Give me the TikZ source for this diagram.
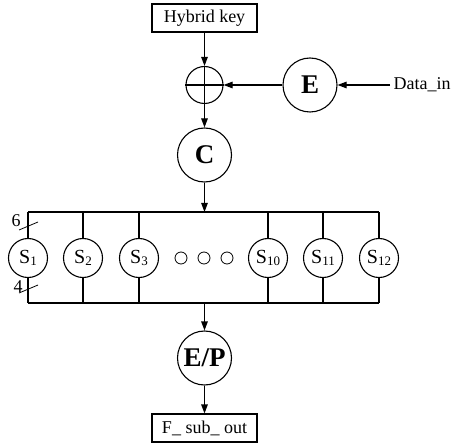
\documentclass[tikz,border=0pt]{standalone}
\usepackage{fontspec}
\setmainfont{Liberation Serif}
\usetikzlibrary{arrows.meta}
\begin{document}
\begin{tikzpicture}[x=1pt,y=-1pt,line width=1.1pt,
  >={Triangle[length=9pt,width=6.5pt]},
  box/.style={draw,rectangle,minimum width=105pt,minimum height=28pt,inner sep=0pt,font=\fontsize{18}{20}\selectfont},
  bigc/.style={draw,circle,minimum size=54pt,inner sep=0pt,font=\fontsize{27}{29}\selectfont\bfseries},
  sc/.style={draw,circle,minimum size=39pt,inner sep=0pt,fill=white,font=\fontsize{20}{22}\selectfont},
  dotc/.style={draw,circle,minimum size=12pt,inner sep=0pt,line width=0.8pt},
  lbl/.style={font=\fontsize{18}{20}\selectfont,inner sep=0pt}]
\useasboundingbox (0,0) rectangle (460,446);
\newcommand{\sub}[1]{\raisebox{-2pt}{\fontsize{13}{13}\selectfont #1}}
% top part
\node[box] (hk) at (204.5,18) {Hybrid key};
\node[draw,circle,minimum size=37pt,inner sep=0pt] (x) at (204.5,85) {};
\draw (x.north) -- (x.south);
\draw (x.west) -- (x.east);
\node[bigc] (E) at (310,85) {E};
\node[lbl,anchor=west,inner xsep=3pt] (din) at (390,85) {Data\_in};
\node[bigc] (C) at (204.5,155) {C};
\draw[->] (hk.south) -- (x.north);
\draw[->] (E.west) -- (x.east);
\draw[->] (din.west) -- (E.east);
\draw[->] (x.south) -- (C.north);
% bus
\coordinate (tl) at (28,212);
\coordinate (tr) at (379,212);
\coordinate (bl) at (28,303);
\coordinate (br) at (379,303);
\coordinate (tm) at (204.5,212);
\coordinate (bm) at (204.5,303);
\draw (tl) -- (tr);
\draw (bl) -- (br);
\draw[->] (C.south) -- (tm);
\foreach \n/\xx/\t in {s1/28/1,s2/83/2,s3/139/3,s10/268/10,s11/323/11,s12/379/12}{
  \node[sc] (\n) at (\xx,258) {S\sub{\t}};
  \draw (\xx,212) -- (\n.north);
  \draw (\n.south) -- (\xx,303);
}
\node[dotc] (d1) at (181,258) {};
\node[dotc] (d2) at (204,258) {};
\node[dotc] (d3) at (227,258) {};
% width marks
\coordinate (m6a) at (19,230); \coordinate (m6b) at (38,222);
\coordinate (m4a) at (19,293); \coordinate (m4b) at (38,285);
\draw[line width=0.8pt] (m6a) -- (m6b);
\draw[line width=0.8pt] (m4a) -- (m4b);
\node[lbl] (l6) at (16,221) {6};
\node[lbl] (l4) at (18,287) {4};
% bottom
\node[bigc] (EP) at (204.5,358) {E/P};
\node[box] (fo) at (204.5,428) {F\_ sub\_ out};
\draw[->] (bm) -- (EP.north);
\draw[->] (EP.south) -- (fo.north);
\end{tikzpicture}
\end{document}
